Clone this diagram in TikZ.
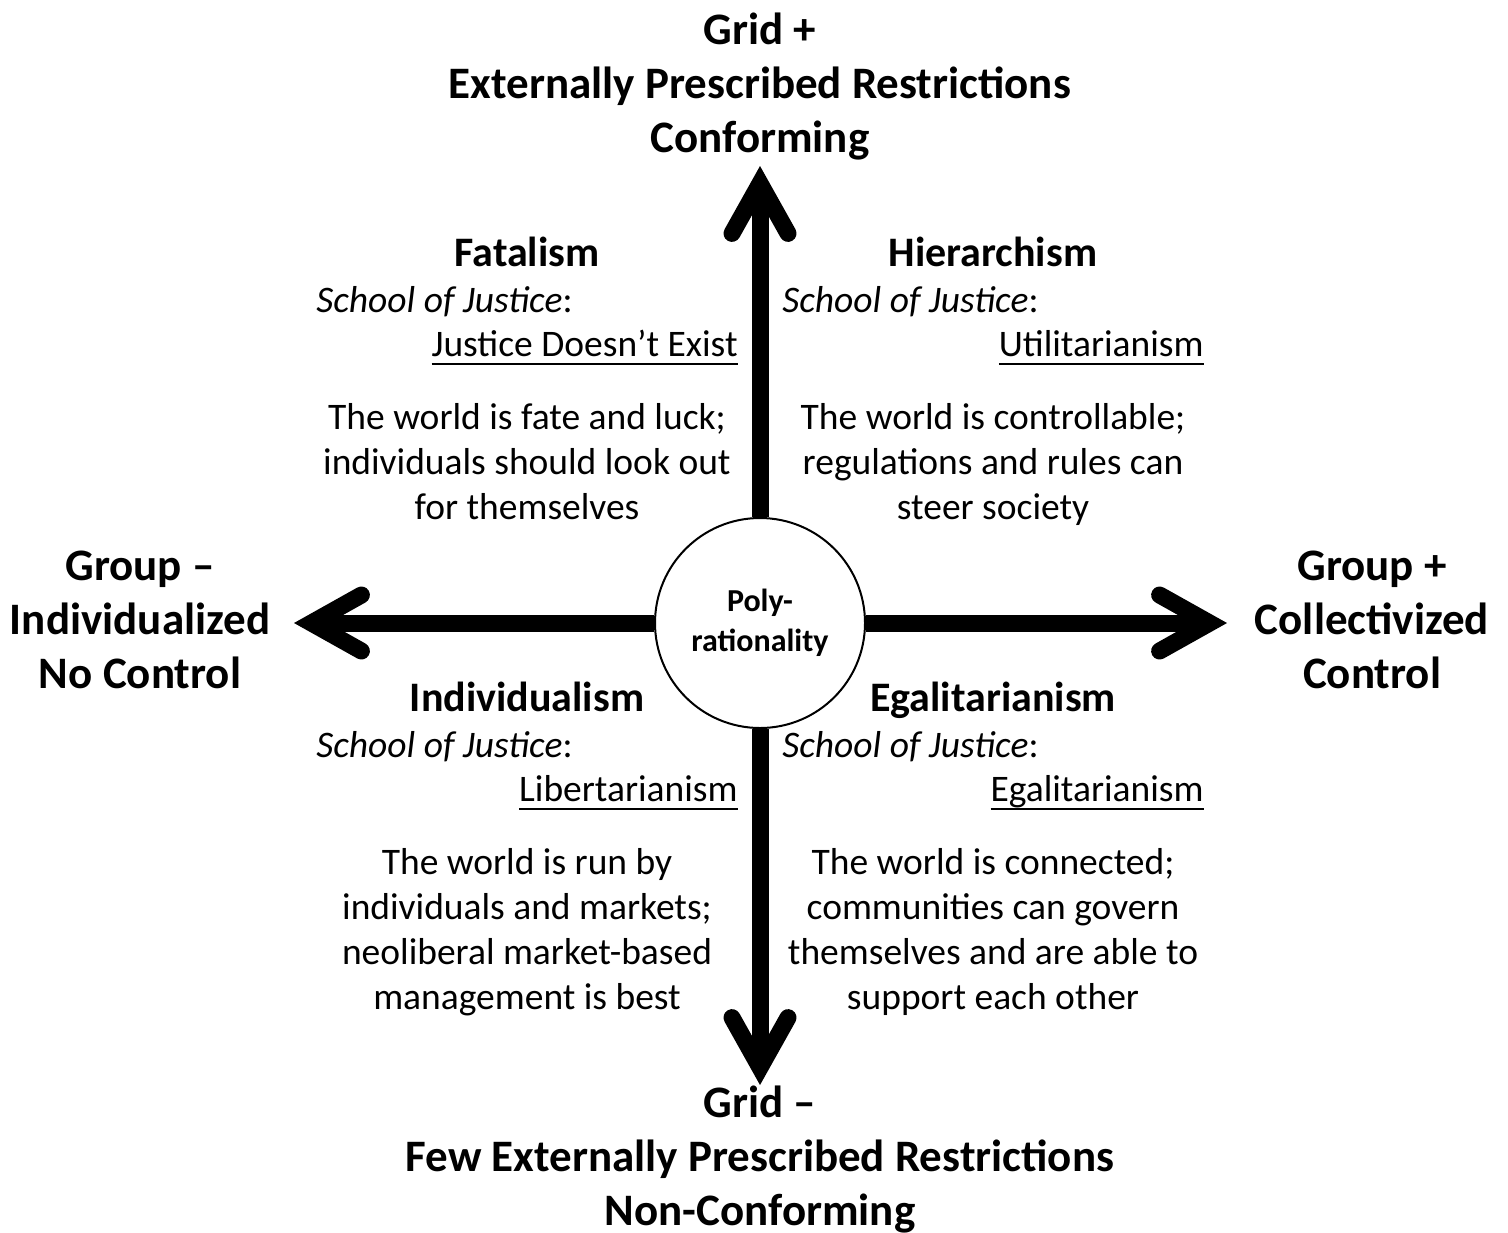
\documentclass[tikz,border=0pt]{standalone}
\usepackage{fontspec}
\setmainfont{Carlito}
\usetikzlibrary{positioning,arrows.meta}

\newlength{\qulwd}
\newcommand{\qul}[1]{\settowidth{\qulwd}{#1}\rlap{\rule[-4pt]{\qulwd}{1pt}}#1}

\tikzset{
  axis/.style={line width=8.5pt,
    -{Straight Barb[length=25pt,width=28pt,line width=8.5pt,line join=miter,line cap=round]}},
  axislabel/.style={align=center, font=\fontsize{22.5}{27}\selectfont\bfseries},
  qhead/.style={text height=0.7em, text depth=0.25em, font=\fontsize{21}{25}\selectfont\bfseries},
  txt/.style={inner sep=0pt, text height=0.7em, text depth=0.25em, font=\fontsize{18.75}{22.5}\selectfont},
  body/.style={inner sep=0pt, align=center, font=\fontsize{18.75}{22.5}\selectfont},
}

\begin{document}
\begin{tikzpicture}[x=0.5pt,y=-0.5pt]
  \useasboundingbox (0,0) rectangle (1508,1232);

  % centre
  \node[circle,draw,line width=1pt,minimum size=105pt,inner sep=0pt,align=center,
    font=\fontsize{16}{20}\selectfont\bfseries] (poly) at (760,623) {Poly-\\rationality};

  % axes
  \coordinate (gtop) at (760,166);
  \coordinate (gbot) at (760,1085);
  \coordinate (gleft) at (294,623);
  \coordinate (gright) at (1227,623);
  \draw[axis] (poly) -- (gtop);
  \draw[axis] (poly) -- (gbot);
  \draw[axis] (poly) -- (gleft);
  \draw[axis] (poly) -- (gright);

  \node[axislabel] (gridplus) at (760,87) {Grid +\\Externally Prescribed Restrictions\\Conforming};
  \node[axislabel] (gridminus) at (760,1160) {Grid –\\Few Externally Prescribed Restrictions\\Non-Conforming};
  \node[axislabel] (groupminus) at (140,620) {Group –\\Individualized\\No Control};
  \node[axislabel] (groupplus) at (1372,620) {Group +\\Collectivized\\Control};

  % quadrants
  \foreach \n/\qx/\qy/\qtitle/\qjust/\qtext in {
    fat/316/0/Fatalism/{Justice Doesn’t Exist}/{The world is fate and luck;\\individuals should look out\\for themselves},
    hier/782/0/Hierarchism/Utilitarianism/{The world is controllable;\\regulations and rules can\\steer society},
    ind/316/445/Individualism/Libertarianism/{The world is run by\\individuals and markets;\\neoliberal market-based\\management is best},
    ega/782/445/Egalitarianism/Egalitarianism/{The world is connected;\\communities can govern\\themselves and are able to\\support each other}} {
  \node[qhead] (\n-head) at (\qx+211,262+\qy) {\qtitle};
  \node[txt,anchor=west] (\n-school) at (\qx,308+\qy) {\textit{School of Justice}:};
  \node[txt,anchor=east] (\n-just) at (\qx+422,352+\qy) {\qul{\qjust}};
  \node[body,anchor=north] (\n-body) at (\qx+211,403+\qy) {\qtext};
  }
\end{tikzpicture}
\end{document}
